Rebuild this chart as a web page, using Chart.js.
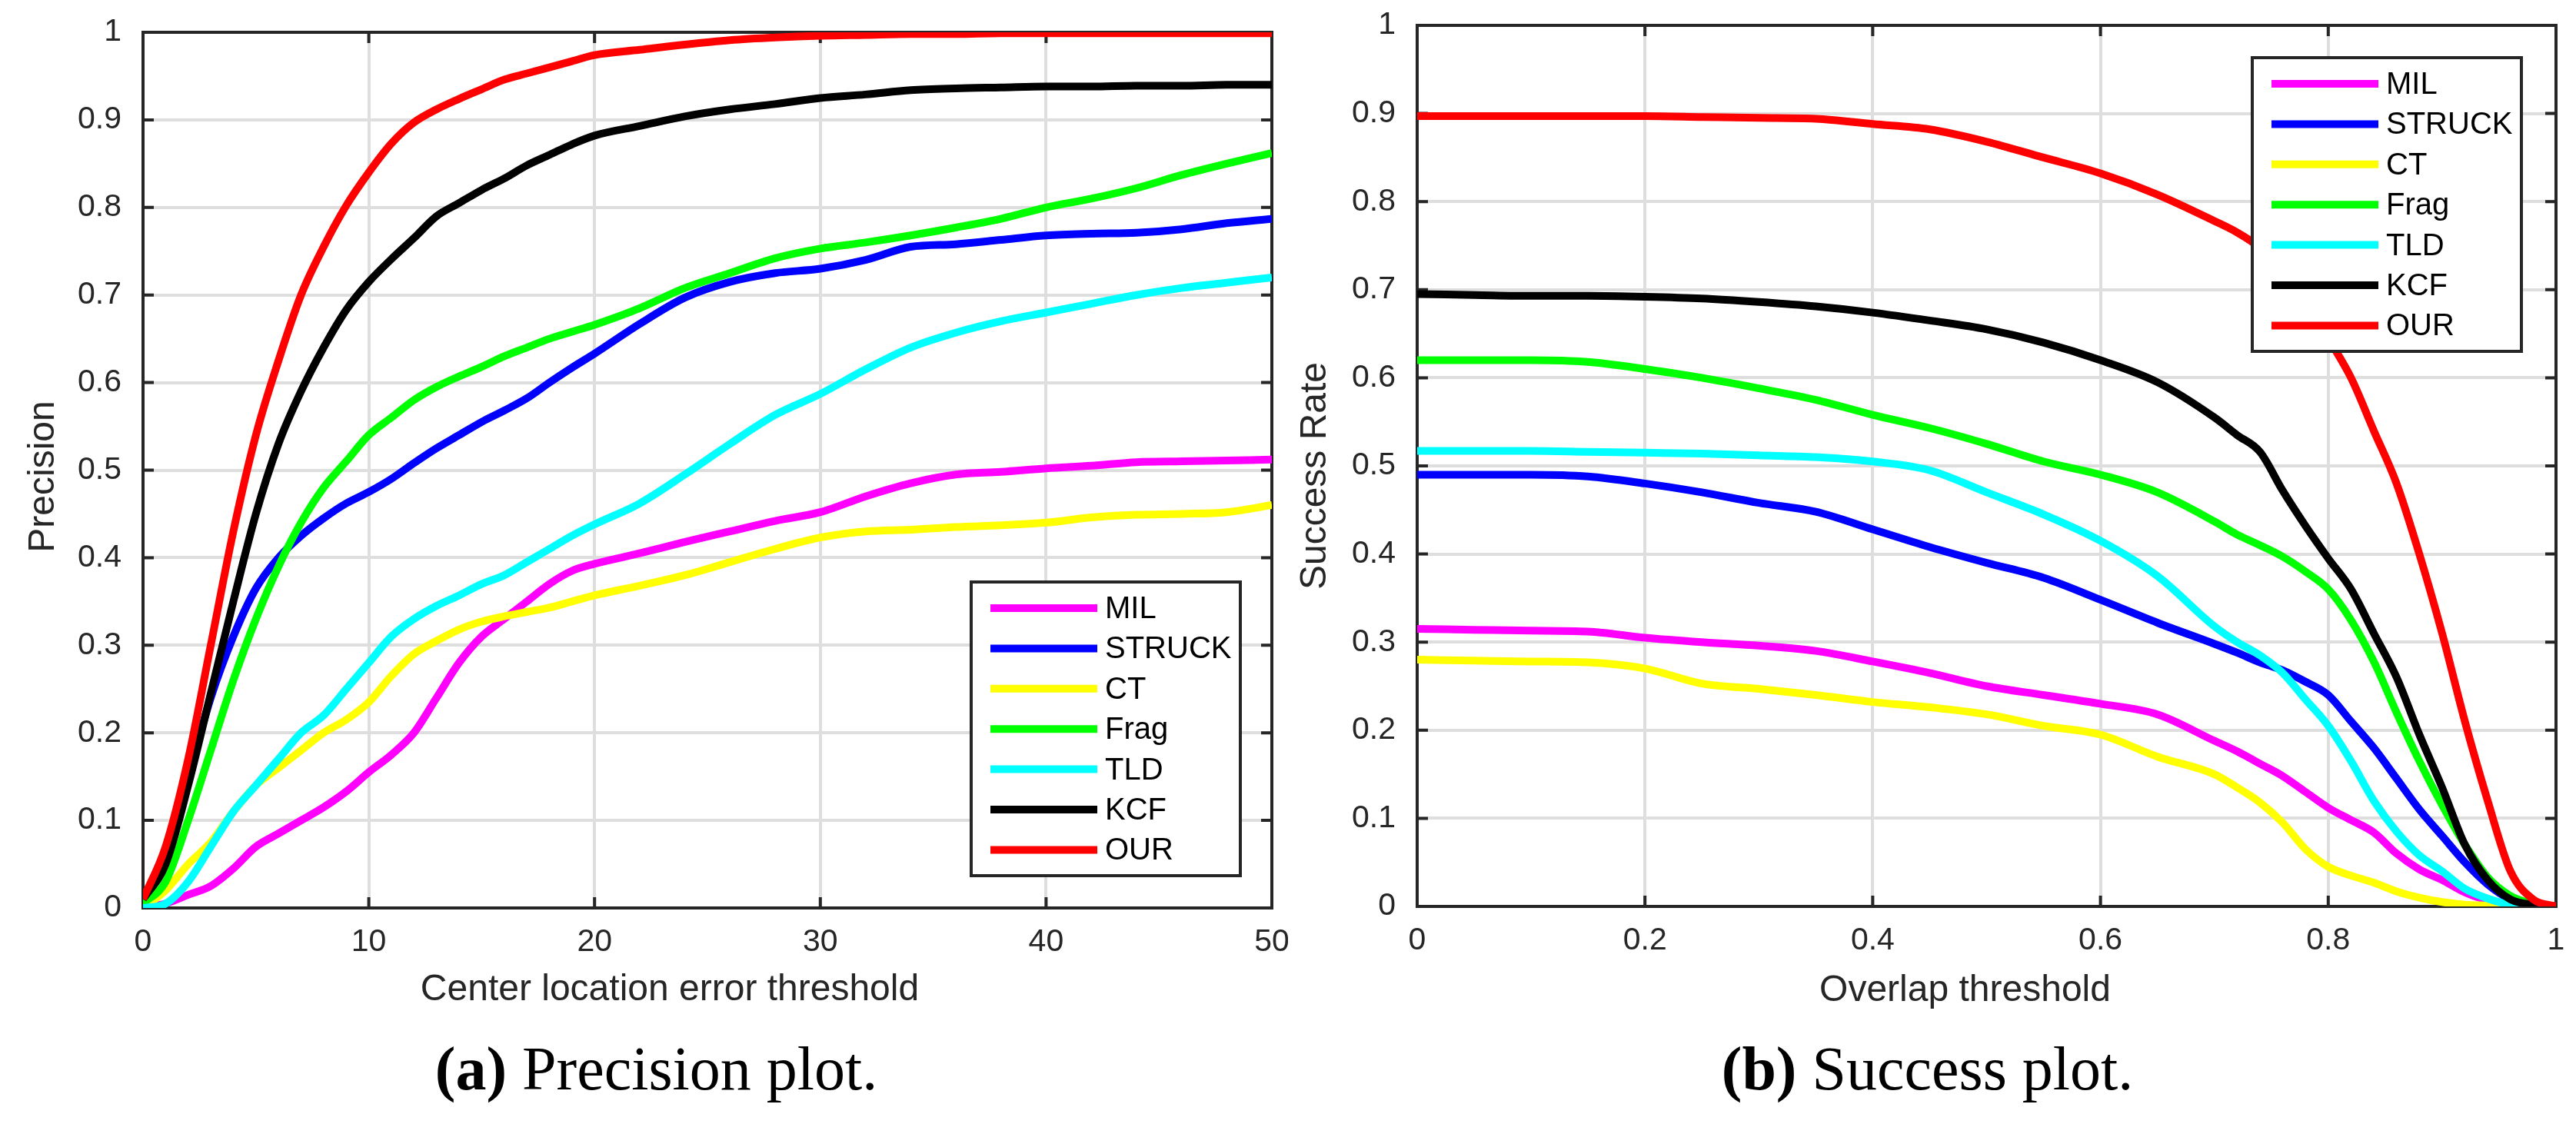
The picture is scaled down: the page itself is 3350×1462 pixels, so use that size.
<!DOCTYPE html>
<html>
<head>
<meta charset="utf-8">
<script src="https://cdn.jsdelivr.net/npm/chart.js@4.4.0/dist/chart.umd.min.js"></script>
<style>
html, body { margin: 0; padding: 0; background: #fff; }
body { width: 3350px; height: 1462px; position: relative; overflow: hidden; }
.panel { position: absolute; top: 0; width: 1675px; height: 1462px; }
.caption { position: absolute; top: 1350px; width: 1675px; text-align: center;
  font-family: "Liberation Serif", "Times New Roman", serif; font-size: 80px; line-height: 80px; color: #000; white-space: nowrap; }
</style>
</head>
<body>
<div class="panel" style="left:0"><canvas id="precisionChart"></canvas></div>
<div class="panel" style="left:1675px"><canvas id="successChart"></canvas></div>
<div class="caption" style="left:16px"><b>(a)</b> Precision plot.</div>
<div class="caption" style="left:1669px"><b>(b)</b> Success plot.</div>
<script>
var methods = ['MIL', 'STRUCK', 'CT', 'Frag', 'TLD', 'KCF', 'OUR'];
var colors = ['#ff00ff', '#0000ff', '#ffff00', '#00ff00', '#00ffff', '#000000', '#ff0000'];

// precision plot (center location error threshold, pixels)
var errorThresholds = [0, 1, 2, 3, 4, 5, 6, 7, 8, 9, 10, 11, 12, 13, 14, 15, 16, 17, 18, 19, 20,
  22, 24, 26, 28, 30, 32, 34, 36, 38, 40, 42, 44, 46, 48, 50];
var precMIL = [0, 0.005, 0.015, 0.025, 0.045, 0.07, 0.085, 0.1, 0.115, 0.133, 0.155, 0.175, 0.2, 0.24, 0.28, 0.31, 0.33, 0.35, 0.37, 0.385, 0.393,
  0.405, 0.418, 0.43, 0.442, 0.452, 0.47, 0.485, 0.495, 0.498, 0.502, 0.505, 0.509, 0.51, 0.511, 0.512];
var precSTRUCK = [0.005, 0.06, 0.15, 0.24, 0.31, 0.365, 0.4, 0.425, 0.445, 0.462, 0.475, 0.49, 0.508, 0.525, 0.54, 0.555, 0.568, 0.582, 0.6, 0.617, 0.633,
  0.667, 0.697, 0.715, 0.725, 0.73, 0.74, 0.755, 0.758, 0.763, 0.768, 0.77, 0.771, 0.775, 0.782, 0.787];
var precCT = [0, 0.02, 0.05, 0.075, 0.11, 0.14, 0.16, 0.18, 0.2, 0.215, 0.235, 0.265, 0.29, 0.305, 0.318, 0.327, 0.333, 0.338, 0.343, 0.35, 0.357,
  0.368, 0.38, 0.395, 0.41, 0.423, 0.43, 0.432, 0.435, 0.437, 0.44, 0.446, 0.449, 0.45, 0.452, 0.46];
var precFrag = [0.005, 0.03, 0.1, 0.18, 0.26, 0.33, 0.39, 0.44, 0.48, 0.51, 0.54, 0.56, 0.58, 0.595, 0.607, 0.618, 0.63, 0.64, 0.65, 0.658, 0.666,
  0.685, 0.708, 0.725, 0.742, 0.753, 0.76, 0.768, 0.777, 0.787, 0.8, 0.81, 0.822, 0.837, 0.85, 0.862];
var precTLD = [0, 0.005, 0.03, 0.07, 0.11, 0.14, 0.17, 0.2, 0.22, 0.25, 0.28, 0.31, 0.33, 0.345, 0.357, 0.37, 0.38, 0.395, 0.41, 0.425, 0.438,
  0.462, 0.495, 0.53, 0.563, 0.587, 0.615, 0.64, 0.657, 0.67, 0.68, 0.69, 0.7, 0.708, 0.714, 0.72];
var precKCF = [0.01, 0.05, 0.14, 0.245, 0.35, 0.45, 0.53, 0.59, 0.64, 0.683, 0.715, 0.741, 0.765, 0.79, 0.805, 0.82, 0.833, 0.848, 0.86, 0.872, 0.882,
  0.893, 0.904, 0.912, 0.918, 0.925, 0.929, 0.934, 0.936, 0.937, 0.938, 0.938, 0.939, 0.939, 0.94, 0.94];
var precOUR = [0.01, 0.07, 0.17, 0.3, 0.43, 0.54, 0.625, 0.7, 0.755, 0.802, 0.84, 0.873, 0.897, 0.912, 0.924, 0.935, 0.946, 0.953, 0.96, 0.967, 0.974,
  0.98, 0.986, 0.991, 0.994, 0.996, 0.997, 0.998, 0.998, 0.999, 0.999, 0.999, 0.999, 0.999, 0.999, 0.999];

// success plot (overlap threshold)
var overlapThresholds = [0, 0.05, 0.1, 0.15, 0.2, 0.25, 0.3, 0.35, 0.4, 0.45, 0.5, 0.55, 0.6, 0.65, 0.7,
  0.72, 0.74, 0.76, 0.78, 0.8, 0.82, 0.84, 0.86, 0.88, 0.9, 0.92, 0.94, 0.96, 0.98, 1];
var succMIL = [0.315, 0.314, 0.313, 0.312, 0.305, 0.3, 0.296, 0.29, 0.278, 0.265, 0.25, 0.24, 0.23, 0.218, 0.188,
  0.176, 0.162, 0.148, 0.13, 0.112, 0.098, 0.084, 0.06, 0.042, 0.03, 0.016, 0.007, 0.002, 0, 0];
var succSTRUCK = [0.49, 0.49, 0.49, 0.488, 0.48, 0.47, 0.458, 0.448, 0.428, 0.408, 0.39, 0.373, 0.348, 0.322, 0.298,
  0.288, 0.277, 0.268, 0.255, 0.24, 0.21, 0.18, 0.145, 0.11, 0.08, 0.05, 0.025, 0.008, 0.002, 0];
var succCT = [0.28, 0.279, 0.278, 0.277, 0.27, 0.253, 0.247, 0.24, 0.232, 0.226, 0.218, 0.205, 0.195, 0.17, 0.15,
  0.135, 0.118, 0.095, 0.065, 0.045, 0.035, 0.027, 0.017, 0.01, 0.005, 0.002, 0.001, 0, 0, 0];
var succFrag = [0.62, 0.62, 0.62, 0.618, 0.61, 0.6, 0.588, 0.575, 0.558, 0.543, 0.525, 0.505, 0.49, 0.47, 0.437,
  0.422, 0.41, 0.397, 0.38, 0.36, 0.325, 0.278, 0.22, 0.165, 0.115, 0.07, 0.033, 0.012, 0.003, 0];
var succTLD = [0.517, 0.517, 0.517, 0.516, 0.515, 0.514, 0.512, 0.51, 0.505, 0.495, 0.47, 0.445, 0.415, 0.375, 0.318,
  0.3, 0.285, 0.265, 0.235, 0.205, 0.165, 0.12, 0.085, 0.058, 0.04, 0.02, 0.009, 0.002, 0, 0];
var succKCF = [0.695, 0.694, 0.693, 0.693, 0.692, 0.69, 0.686, 0.681, 0.674, 0.665, 0.655, 0.64, 0.62, 0.595, 0.555,
  0.535, 0.516, 0.472, 0.432, 0.395, 0.36, 0.31, 0.26, 0.195, 0.135, 0.07, 0.03, 0.008, 0.002, 0];
var succOUR = [0.897, 0.897, 0.897, 0.897, 0.897, 0.896, 0.895, 0.894, 0.888, 0.882, 0.868, 0.85, 0.832, 0.808, 0.778,
  0.765, 0.748, 0.725, 0.69, 0.645, 0.6, 0.54, 0.48, 0.4, 0.31, 0.21, 0.12, 0.04, 0.008, 0];

var rateTicks = ['0', '0.1', '0.2', '0.3', '0.4', '0.5', '0.6', '0.7', '0.8', '0.9', '1'];
var errorTicks = ['0', '10', '20', '30', '40', '50'];
var overlapTicks = ['0', '0.2', '0.4', '0.6', '0.8', '1'];

var SANS = '"Liberation Sans", Arial, Helvetica, sans-serif';
var AXIS_COLOR = '#262626';

function makeDatasets(xs, series) {
  return series.map(function (ys, i) {
    return {
      label: methods[i],
      data: xs.map(function (x, j) { return { x: x, y: ys[j] }; }),
      borderColor: colors[i],
      backgroundColor: colors[i],
      borderWidth: 10,
      pointRadius: 0,
      fill: false,
      cubicInterpolationMode: 'monotone',
      order: series.length - i  // later methods drawn on top, like the matlab plot
    };
  });
}

// box, inward ticks, axis titles and an inside legend, matlab style
var matlabAxes = {
  id: 'matlabAxes',
  beforeDatasetsDraw: function (chart, args, o) {
    var a = chart.chartArea, ctx = chart.ctx, xs = chart.scales.x, ys = chart.scales.y;
    var tl = 14;
    ctx.save();
    ctx.strokeStyle = AXIS_COLOR;
    ctx.lineWidth = 4;
    ctx.beginPath();
    xs.ticks.forEach(function (t) {
      var px = xs.getPixelForValue(t.value);
      ctx.moveTo(px, a.bottom); ctx.lineTo(px, a.bottom - tl);
      ctx.moveTo(px, a.top); ctx.lineTo(px, a.top + tl);
    });
    ys.ticks.forEach(function (t) {
      var py = ys.getPixelForValue(t.value);
      ctx.moveTo(a.left, py); ctx.lineTo(a.left + tl, py);
      ctx.moveTo(a.right, py); ctx.lineTo(a.right - tl, py);
    });
    ctx.stroke();
    ctx.strokeRect(a.left, a.top, a.right - a.left, a.bottom - a.top);

    ctx.fillStyle = AXIS_COLOR;
    ctx.font = '48px ' + SANS;
    ctx.textAlign = 'center';
    ctx.textBaseline = 'middle';
    ctx.fillText(o.xTitle, (a.left + a.right) / 2 + o.xTitleShift, o.xTitleY);
    ctx.translate(o.yTitleX, o.yTitleY);
    ctx.rotate(-Math.PI / 2);
    ctx.fillText(o.yTitle, 0, 0);
    ctx.restore();
  },
  afterDraw: function (chart, args, o) {
    var a = chart.chartArea, ctx = chart.ctx;
    var left = a.right - o.legendRight;
    var top = o.legendTop != null ? a.top + o.legendTop : a.bottom - o.legendBottom - 382;
    ctx.save();
    ctx.fillStyle = '#fff';
    ctx.fillRect(left, top, 350, 382);
    ctx.strokeStyle = AXIS_COLOR;
    ctx.lineWidth = 4;
    ctx.strokeRect(left, top, 350, 382);
    ctx.font = '40px ' + SANS;
    ctx.textAlign = 'left';
    ctx.textBaseline = 'middle';
    chart.data.datasets.forEach(function (ds, i) {
      var y = top + 34 + i * 52.4;
      ctx.strokeStyle = ds.borderColor;
      ctx.lineWidth = 10;
      ctx.beginPath();
      ctx.moveTo(left + 25, y);
      ctx.lineTo(left + 164, y);
      ctx.stroke();
      ctx.fillStyle = '#000';
      ctx.fillText(ds.label, left + 174, y + 2);
    });
    ctx.restore();
  }
};

function makeScales(xMax, xStep, xLabels, yWidth, xHeight) {
  var tickFont = { family: SANS, size: 41 };
  return {
    x: {
      type: 'linear', min: 0, max: xMax,
      ticks: { stepSize: xStep, padding: 20, color: AXIS_COLOR, font: tickFont, maxRotation: 0, autoSkip: false,
        callback: function (v, i) { return xLabels[i]; } },
      grid: { color: '#dedede', lineWidth: 4, drawTicks: false },
      border: { display: false },
      afterFit: function (s) { s.height = xHeight; s.paddingLeft = 0; s.paddingRight = 0; }
    },
    y: {
      type: 'linear', min: 0, max: 1,
      ticks: { stepSize: 0.1, padding: 28, color: AXIS_COLOR, font: tickFont, autoSkip: false,
        callback: function (v, i) { return rateTicks[i]; } },
      grid: { color: '#dedede', lineWidth: 4, drawTicks: false },
      border: { display: false },
      afterFit: function (s) { s.width = yWidth; s.paddingTop = 0; s.paddingBottom = 0; }
    }
  };
}

function makeChart(id, xs, series, scales, padding, axesOpts) {
  return new Chart(document.getElementById(id), {
    type: 'line',
    data: { datasets: makeDatasets(xs, series) },
    options: {
      responsive: true,
      maintainAspectRatio: false,
      animation: false,
      devicePixelRatio: 1,
      layout: { padding: padding },
      scales: scales,
      plugins: { legend: { display: false }, tooltip: { enabled: false }, matlabAxes: axesOpts }
    },
    plugins: [matlabAxes]
  });
}

makeChart('precisionChart', errorThresholds,
  [precMIL, precSTRUCK, precCT, precFrag, precTLD, precKCF, precOUR],
  makeScales(50, 10, errorTicks, 186, 281),
  { top: 42, right: 21, left: 0, bottom: 0 },
  { xTitle: 'Center location error threshold', xTitleShift: -49, xTitleY: 1288,
    yTitle: 'Precision', yTitleX: 57, yTitleY: 620,
    legendRight: 391, legendBottom: 42 });

makeChart('successChart', overlapThresholds,
  [succMIL, succSTRUCK, succCT, succFrag, succTLD, succKCF, succOUR],
  makeScales(1, 0.2, overlapTicks, 168, 283),
  { top: 33, right: 26, left: 0, bottom: 0 },
  { xTitle: 'Overlap threshold', xTitleShift: -28, xTitleY: 1289,
    yTitle: 'Success Rate', yTitleX: 36, yTitleY: 619,
    legendRight: 395, legendTop: 42 });
</script>
</body>
</html>
